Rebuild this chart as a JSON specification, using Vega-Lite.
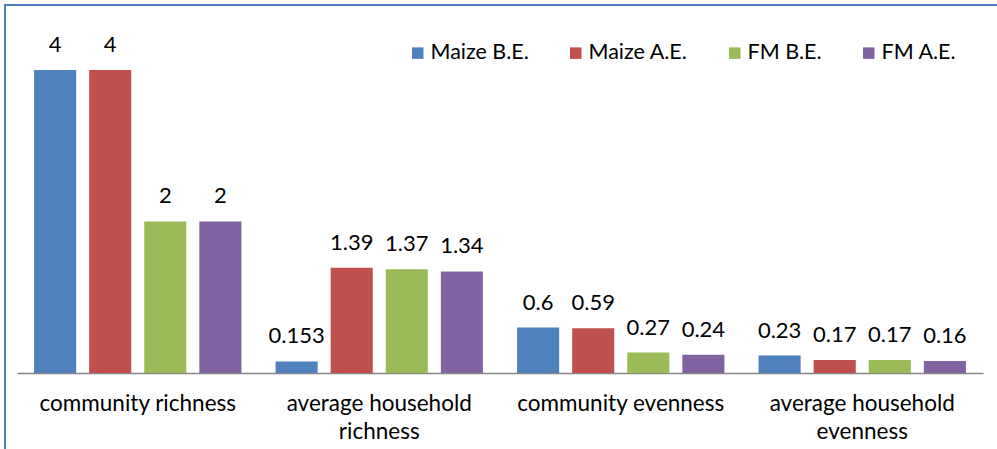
{
  "$schema": "https://vega.github.io/schema/vega-lite/v6.json",
  "width": 1004,
  "height": 450,
  "autosize": "none",
  "padding": {"left": 5, "top": 5, "right": 0, "bottom": 0},
  "background": "white",
  "config": {
    "view": {"stroke": "#4F81BD", "strokeWidth": 2},
    "font": "Lato",
    "text": {"font": "Lato"}
  },
  "data": {
    "values": [
      {"category": "community richness", "series": "Maize B.E.", "value": 4},
      {"category": "community richness", "series": "Maize A.E.", "value": 4},
      {"category": "community richness", "series": "FM B.E.", "value": 2},
      {"category": "community richness", "series": "FM A.E.", "value": 2},
      {"category": "average household richness", "series": "Maize B.E.", "value": 0.153},
      {"category": "average household richness", "series": "Maize A.E.", "value": 1.39},
      {"category": "average household richness", "series": "FM B.E.", "value": 1.37},
      {"category": "average household richness", "series": "FM A.E.", "value": 1.34},
      {"category": "community evenness", "series": "Maize B.E.", "value": 0.6},
      {"category": "community evenness", "series": "Maize A.E.", "value": 0.59},
      {"category": "community evenness", "series": "FM B.E.", "value": 0.27},
      {"category": "community evenness", "series": "FM A.E.", "value": 0.24},
      {"category": "average household evenness", "series": "Maize B.E.", "value": 0.23},
      {"category": "average household evenness", "series": "Maize A.E.", "value": 0.17},
      {"category": "average household evenness", "series": "FM B.E.", "value": 0.17},
      {"category": "average household evenness", "series": "FM A.E.", "value": 0.16}
    ]
  },
  "encoding": {
    "x": {
      "field": "category",
      "type": "nominal",
      "sort": null,
      "scale": {"range": [12, 978], "paddingInner": 0, "paddingOuter": 0},
      "axis": {
        "title": null,
        "orient": "bottom",
        "offset": -82,
        "ticks": false,
        "domainColor": "#868686",
        "domainWidth": 1.5,
        "labelAngle": 0,
        "labelFont": "Lato",
        "labelFontSize": 22.5,
        "labelColor": "#000000",
        "labelPadding": 19,
        "labelLineHeight": 28.5,
        "labelLimit": 0,
        "labelExpr": "indexof(datum.label, 'average household ') == 0 ? ['average household', substring(datum.label, 18)] : datum.label"
      }
    },
    "xOffset": {
      "field": "series",
      "type": "nominal",
      "sort": null,
      "scale": {"paddingInner": 0.236, "paddingOuter": 0.31}
    },
    "y": {
      "field": "value",
      "type": "quantitative",
      "scale": {"domain": [-1.0825, 4.858], "nice": false, "zero": false},
      "axis": null
    }
  },
  "layer": [
    {
      "mark": {"type": "bar"},
      "encoding": {
        "y2": {"datum": 0},
        "color": {
          "field": "series",
          "type": "nominal",
          "sort": null,
          "scale": {
            "domain": ["Maize B.E.", "Maize A.E.", "FM B.E.", "FM A.E."],
            "range": ["#4F81BD", "#C0504D", "#9BBB59", "#8064A2"]
          },
          "legend": {
            "orient": "none",
            "legendX": 402,
            "legendY": 37,
            "direction": "horizontal",
            "title": null,
            "symbolType": "square",
            "symbolSize": 132,
            "symbolStrokeWidth": 0,
            "labelFont": "Lato",
            "labelFontSize": 21.5,
            "labelColor": "#000000",
            "labelOffset": 2,
            "columnPadding": 36,
            "padding": 0
          }
        }
      }
    },
    {
      "mark": {"type": "text", "baseline": "alphabetic", "dy": -18, "fontSize": 22, "color": "#000000"},
      "encoding": {
        "text": {"field": "value", "type": "quantitative", "format": "~g"}
      }
    }
  ]
}
